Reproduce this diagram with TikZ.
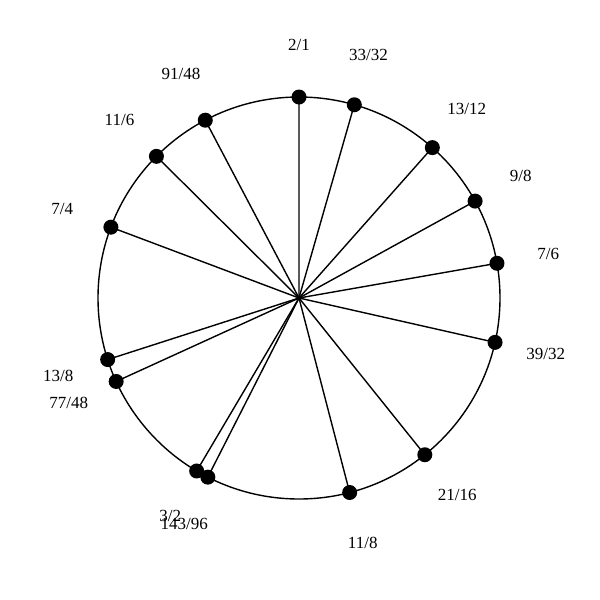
\documentclass[tikz,border=0pt]{standalone}
\usepackage{fontspec}
\setmainfont{Liberation Serif}
\usetikzlibrary{calc}
\begin{document}
\begin{tikzpicture}[x=1pt,y=1pt,
  spoke/.style={line width=1.4pt},
  rim/.style={line width=1.4pt},
  dotnode/.style={circle,fill=black,inner sep=0pt,minimum size=15pt},
  ratiolabel/.style={font=\fontsize{17}{20}\selectfont,inner sep=0pt}]
\useasboundingbox (0,0) rectangle (600,-600);
\coordinate (c) at (299,-298);
\foreach \n/\d [count=\i] in {2/1,33/32,13/12,9/8,7/6,39/32,21/16,11/8,143/96,3/2,77/48,13/8,7/4,11/6,91/48} {
  \pgfmathsetmacro\ang{90-360*ln(\n/\d)/ln(2)}
  \coordinate (q\i) at ($(c)+(\ang:201)$);
  \draw[spoke] (c) -- (q\i);
}
\draw[rim] (c) circle (201);
\foreach \n/\d [count=\i] in {2/1,33/32,13/12,9/8,7/6,39/32,21/16,11/8,143/96,3/2,77/48,13/8,7/4,11/6,91/48} {
  \pgfmathsetmacro\ang{90-360*ln(\n/\d)/ln(2)}
  \node[dotnode] (p\i) at (q\i) {};
  \node[ratiolabel] (l\i) at ($(c)+(\ang:253)$) {\n/\d};
}
\end{tikzpicture}
\end{document}
